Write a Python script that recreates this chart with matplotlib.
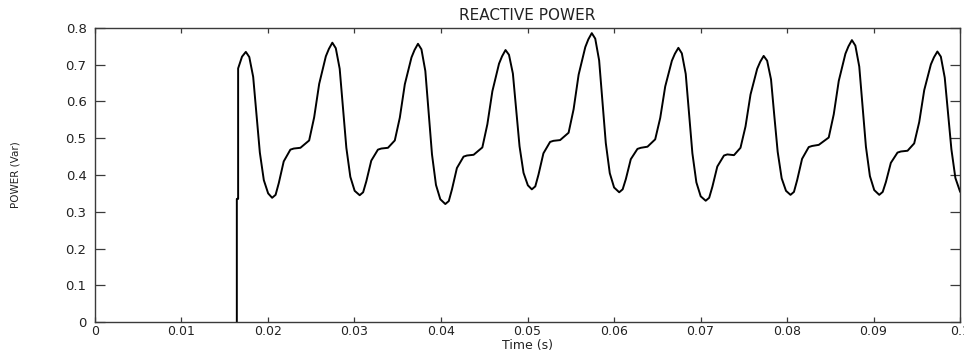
import matplotlib
matplotlib.use("Agg")
import matplotlib.pyplot as plt

# reactive power trace (time in s, power in Var)
t_s = [
    0.0164, 0.0164, 0.01655, 0.01655, 0.0170, 0.01744,
    # cycle 1
    0.01784, 0.01829, 0.01867, 0.01906, 0.01952, 0.02002, 0.02048,
    0.02088, 0.02125, 0.02182, 0.02259, 0.02298, 0.02375,
    0.02476, 0.02534, 0.02592, 0.02669, 0.02704, 0.02744,
    # cycle 2
    0.02784, 0.02829, 0.02867, 0.02906, 0.02952, 0.03002, 0.0306,
    0.031, 0.03137, 0.03194, 0.03271, 0.0331, 0.03387,
    0.03466, 0.03524, 0.03582, 0.03659, 0.03694, 0.03734,
    # cycle 3
    0.03774, 0.03819, 0.03857, 0.03896, 0.03942, 0.03992, 0.0405,
    0.0409, 0.04127, 0.04184, 0.04261, 0.043, 0.04377,
    0.04478, 0.04536, 0.04594, 0.04671, 0.04706, 0.04746,
    # cycle 4
    0.04786, 0.04831, 0.04869, 0.04908, 0.04954, 0.05004, 0.0505,
    0.0509, 0.05127, 0.05184, 0.05261, 0.053, 0.05377,
    0.05475, 0.05533, 0.05591, 0.05668, 0.05703, 0.05743,
    # cycle 5
    0.05783, 0.05828, 0.05866, 0.05905, 0.05951, 0.06001, 0.0606,
    0.061, 0.06137, 0.06194, 0.06271, 0.0631, 0.06387,
    0.06476, 0.06534, 0.06592, 0.06669, 0.06704, 0.06744,
    # cycle 6
    0.06784, 0.06829, 0.06867, 0.06906, 0.06952, 0.07002, 0.0706,
    0.071, 0.07137, 0.07194, 0.07271, 0.0731, 0.07387,
    0.07462, 0.0752, 0.07578, 0.07655, 0.0769, 0.0773,
    # cycle 7
    0.0777, 0.07815, 0.07853, 0.07892, 0.07938, 0.07988, 0.0804,
    0.0808, 0.08117, 0.08174, 0.08251, 0.0829, 0.08367,
    0.08482, 0.0854, 0.08598, 0.08675, 0.0871, 0.0875,
    # cycle 8
    0.0879, 0.08835, 0.08873, 0.08912, 0.08958, 0.09008, 0.09066,
    0.09106, 0.09143, 0.092, 0.09277, 0.09316, 0.09393,
    0.0947, 0.09528, 0.09586, 0.09663, 0.09698, 0.09738,
    # cycle 9 (cut off)
    0.09778, 0.09823, 0.09861, 0.099, 0.09946, 0.1,
]
q_var = [
    0.0, 0.335, 0.335, 0.690, 0.722, 0.735,
    0.721, 0.667, 0.564, 0.461, 0.386, 0.350, 0.338,
    0.346, 0.378, 0.437, 0.469, 0.472, 0.474,
    0.494, 0.557, 0.648, 0.723, 0.743, 0.760,
    0.745, 0.689, 0.582, 0.474, 0.395, 0.357, 0.345,
    0.353, 0.383, 0.439, 0.469, 0.472, 0.474,
    0.494, 0.556, 0.647, 0.720, 0.740, 0.757,
    0.742, 0.683, 0.570, 0.456, 0.373, 0.334, 0.321,
    0.329, 0.361, 0.419, 0.450, 0.453, 0.455,
    0.475, 0.538, 0.628, 0.703, 0.723, 0.740,
    0.727, 0.676, 0.577, 0.478, 0.406, 0.372, 0.361,
    0.369, 0.401, 0.459, 0.490, 0.493, 0.495,
    0.515, 0.579, 0.673, 0.748, 0.769, 0.786,
    0.771, 0.712, 0.600, 0.487, 0.405, 0.366, 0.353,
    0.361, 0.389, 0.443, 0.471, 0.474, 0.477,
    0.497, 0.555, 0.641, 0.711, 0.730, 0.746,
    0.731, 0.675, 0.567, 0.459, 0.380, 0.342, 0.330,
    0.338, 0.368, 0.423, 0.453, 0.456, 0.454,
    0.474, 0.532, 0.619, 0.689, 0.708, 0.724,
    0.711, 0.660, 0.561, 0.463, 0.391, 0.357, 0.346,
    0.354, 0.386, 0.444, 0.476, 0.479, 0.482,
    0.502, 0.565, 0.656, 0.730, 0.750, 0.767,
    0.752, 0.695, 0.586, 0.477, 0.397, 0.359, 0.346,
    0.354, 0.381, 0.433, 0.461, 0.464, 0.466,
    0.486, 0.544, 0.631, 0.701, 0.720, 0.736,
    0.722, 0.665, 0.570, 0.470, 0.392, 0.355,
]

x_ticks = [0, 0.01, 0.02, 0.03, 0.04, 0.05, 0.06, 0.07, 0.08, 0.09, 0.1]
x_ticklabels = ["0", "0.01", "0.02", "0.03", "0.04", "0.05", "0.06", "0.07", "0.08", "0.09", "0.1"]
y_ticks = [0, 0.1, 0.2, 0.3, 0.4, 0.5, 0.6, 0.7, 0.8]
y_ticklabels = ["0", "0.1", "0.2", "0.3", "0.4", "0.5", "0.6", "0.7", "0.8"]

plt.rcParams["font.family"] = ["DejaVu Sans"]
fig = plt.figure(figsize=(9.64, 3.53), dpi=100)
ax = fig.add_axes([0.0985, 0.0878, 0.8974, 0.8329])

ax.plot(t_s, q_var, color="black", lw=1.4, solid_joinstyle="round")
ax.set_xlim(0, 0.1); ax.set_ylim(0, 0.8)
ax.set_xticks(x_ticks, x_ticklabels); ax.set_yticks(y_ticks, y_ticklabels)

fc = "#3a3a3a"
for s in ax.spines.values():
    s.set_color(fc); s.set_linewidth(1.0)
ax.tick_params(axis="x", direction="in", length=3.6, width=0.9, color=fc, top=True,
               labelsize=9, pad=2, labelcolor="#222222")
ax.tick_params(axis="y", direction="in", length=7, width=0.9, color=fc, right=True,
               labelsize=9.5, pad=6, labelcolor="#222222")

ax.set_title("REACTIVE POWER", fontsize=11, color="#222222", pad=6)
ax.set_xlabel("Time (s)", fontsize=9, color="#222222")
ax.xaxis.set_label_coords(0.5, -0.057)
ax.xaxis.label.set_va("top")
ax.set_ylabel("POWER (Var)", fontsize=7.5, color="#222222")
ax.yaxis.set_label_coords(-0.0913, 0.5)
ax.yaxis.label.set_va("center")

fig.savefig("out.png", dpi=100)
